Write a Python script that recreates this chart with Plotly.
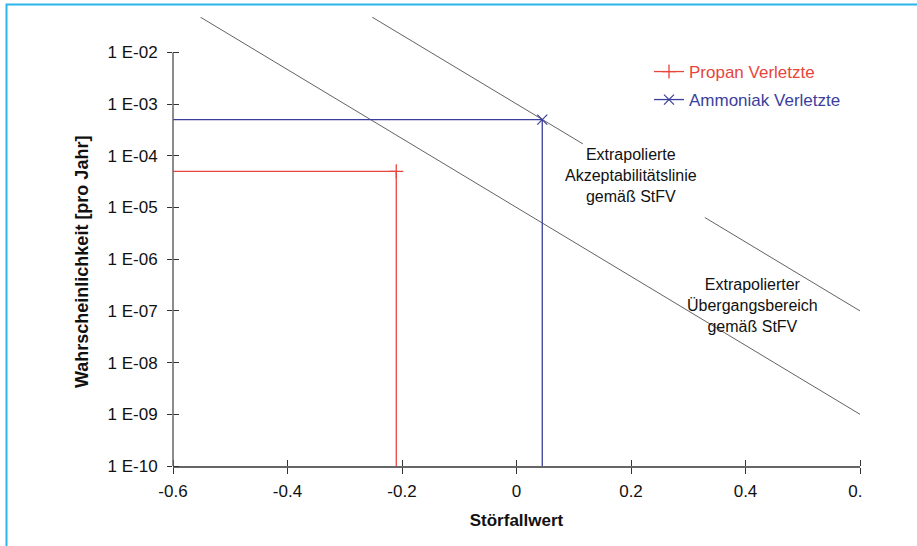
import math
import plotly.graph_objects as go

# ---- data ----
x_tickvals = [-0.6, -0.4, -0.2, 0, 0.2, 0.4, 0.6]
x_ticktext = ["-0.6", "-0.4", "-0.2", "0", "0.2", "0.4", "0.\u2007"]
y_tickvals = [1e-10, 1e-9, 1e-8, 1e-7, 1e-6, 1e-5, 1e-4, 1e-3, 1e-2]
y_ticktext = ["1 E-10", "1 E-09", "1 E-08", "1 E-07", "1 E-06",
              "1 E-05", "1 E-04", "1 E-03", "1 E-02"]

propan_x = [-0.6, -0.21, -0.21]
propan_y = [5e-5, 5e-5, 1e-10]
propan_pt_x = [-0.21]
propan_pt_y = [5e-5]

ammoniak_x = [-0.6, 0.045, 0.045]
ammoniak_y = [5e-4, 5e-4, 1e-10]
ammoniak_pt_x = [0.045]
ammoniak_pt_y = [5e-4]

akzept_x = [-0.252, 0.116, None, 0.329, 0.6]
akzept_y = [4.8e-2, 1.7e-4, None, 6.4e-6, 1e-7]

uebergang_x = [-0.552, 0.6]
uebergang_y = [4.8e-2, 1e-9]

label_akzept = "Extrapolierte<br>Akzeptabilitätslinie<br>gemäß StFV"
label_akzept_pos = (0.2, 10 ** -4.39)
label_ueber = "Extrapolierter<br>Übergangsbereich<br>gemäß StFV"
label_ueber_pos = (0.413, 10 ** -6.9)

# ---- styling ----
RED = "#e8453c"
BLUE = "#3a3f9c"
DIAG = "#3a3a3a"
AXIS = "#666666"
FRAME = "#2bb5ea"
FONT = "Liberation Sans, Arial, sans-serif"

W, H = 917, 546
ML, MR, MT, MB = 173, 57, 17, 80
YR = [-10, -1.315]

fig = go.Figure()

fig.add_trace(go.Scatter(x=uebergang_x, y=uebergang_y, mode="lines",
                         line=dict(color=DIAG, width=0.8), showlegend=False,
                         hoverinfo="skip"))
fig.add_trace(go.Scatter(x=akzept_x, y=akzept_y, mode="lines",
                         line=dict(color=DIAG, width=0.8), showlegend=False,
                         connectgaps=False, hoverinfo="skip"))

fig.add_trace(go.Scatter(x=propan_x, y=propan_y, mode="lines",
                         line=dict(color=RED, width=1.3), showlegend=False))
fig.add_trace(go.Scatter(x=propan_pt_x, y=propan_pt_y, mode="markers",
                         marker=dict(symbol="cross-thin", size=10,
                                     line=dict(color=RED, width=1.3)),
                         showlegend=False))
fig.add_trace(go.Scatter(x=ammoniak_x, y=ammoniak_y, mode="lines",
                         line=dict(color=BLUE, width=1.3), showlegend=False))
fig.add_trace(go.Scatter(x=ammoniak_pt_x, y=ammoniak_pt_y, mode="markers",
                         marker=dict(symbol="x-thin", size=10,
                                     line=dict(color=BLUE, width=1.2)),
                         showlegend=False))

# legend entries
fig.add_trace(go.Scatter(x=[None], y=[None], mode="lines+markers",
                         name="Propan Verletzte",
                         line=dict(color=RED, width=1.3),
                         marker=dict(symbol="cross-thin", size=10,
                                     line=dict(color=RED, width=1.3)),
                         legend="legend"))
fig.add_trace(go.Scatter(x=[None], y=[None], mode="lines+markers",
                         name="Ammoniak Verletzte",
                         line=dict(color=BLUE, width=1.3),
                         marker=dict(symbol="x-thin", size=10,
                                     line=dict(color=BLUE, width=1.2)),
                         legend="legend2"))

pw = W - ML - MR
ph = H - MT - MB


def px_to_paper_x(px):
    return (px - ML) / pw


def py_to_paper_y(py):
    return (H - MB - py) / ph


y_top_paper = (-2 - YR[0]) / (YR[1] - YR[0])

fx0, fy0 = px_to_paper_x(6.5), py_to_paper_y(4.5)
fx1, fy1 = px_to_paper_x(W + 2), py_to_paper_y(H + 2)

shapes = [
    dict(type="line", xref="paper", yref="paper", x0=0, x1=0, y0=0,
         y1=y_top_paper, line=dict(color=AXIS, width=1.5)),
    dict(type="path", xref="paper", yref="paper",
         path=f"M {fx0} {fy1} L {fx0} {fy0} L {fx1} {fy0}",
         line=dict(color=FRAME, width=2)),
]

annotations = [
    dict(text=label_akzept, x=label_akzept_pos[0],
         y=math.log10(label_akzept_pos[1]),
         xref="x", yref="y", showarrow=False, align="center",
         font=dict(family=FONT, size=16, color="#111111")),
    dict(text=label_ueber, x=label_ueber_pos[0],
         y=math.log10(label_ueber_pos[1]),
         xref="x", yref="y", showarrow=False, align="center",
         font=dict(family=FONT, size=16, color="#111111")),
    dict(text="<b>Wahrscheinlichkeit [pro Jahr]</b>", textangle=-90,
         x=px_to_paper_x(82), y=py_to_paper_y(262), xref="paper",
         yref="paper", showarrow=False, xanchor="center", yanchor="middle",
         font=dict(family=FONT, size=18, color="#111111")),
]

fig.update_layout(
    width=W, height=H,
    margin=dict(l=ML, r=MR, t=MT, b=MB, pad=0),
    paper_bgcolor="white", plot_bgcolor="white",
    font=dict(family=FONT, size=16, color="#111111"),
    shapes=shapes,
    annotations=annotations,
    legend=dict(x=px_to_paper_x(649), y=py_to_paper_y(72), xanchor="left",
                yanchor="middle", bgcolor="rgba(0,0,0,0)", borderwidth=0,
                font=dict(family=FONT, size=17, color=RED)),
    legend2=dict(x=px_to_paper_x(649), y=py_to_paper_y(100), xanchor="left",
                 yanchor="middle", bgcolor="rgba(0,0,0,0)", borderwidth=0,
                 font=dict(family=FONT, size=17, color=BLUE)),
)

fig.update_xaxes(
    range=[-0.6, 0.6], tickvals=x_tickvals, ticktext=x_ticktext,
    showgrid=False, zeroline=False, showline=True, linecolor=AXIS,
    linewidth=1.5, ticks="outside", ticklen=6, tickwidth=1.2,
    tickcolor="#333333", ticklabelstandoff=3,
    minor=dict(tickvals=x_tickvals, ticks="inside", ticklen=6, tickwidth=1.2,
               tickcolor="#333333", showgrid=False),
    tickfont=dict(family=FONT, size=17, color="#111111"),
    title=dict(text="<b>Störfallwert</b>", standoff=14,
               font=dict(family=FONT, size=17, color="#111111")),
)

fig.update_yaxes(
    type="log", range=YR, tickvals=y_tickvals, ticktext=y_ticktext,
    showgrid=False, zeroline=False, showline=False,
    ticks="outside", ticklen=5, tickwidth=1.2, tickcolor="#333333",
    ticklabelstandoff=6,
    minor=dict(tickvals=y_tickvals, ticks="inside", ticklen=6, tickwidth=1.2,
               tickcolor="#333333", showgrid=False),
    tickfont=dict(family=FONT, size=17, color="#111111"),
)

fig.write_html("out.html",
               config={"displayModeBar": False},
               post_script="document.body.style.margin='0';"
                           "document.body.style.overflow='hidden';")
